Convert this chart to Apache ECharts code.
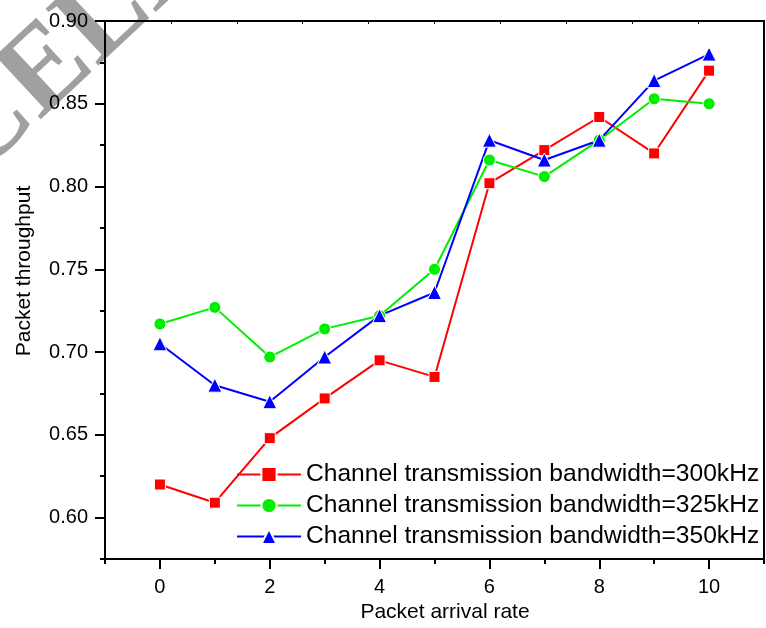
<!DOCTYPE html>
<html>
<head>
<meta charset="utf-8">
<script src="https://cdn.jsdelivr.net/npm/echarts@6/dist/echarts.min.js"></script>
<style>
html,body{margin:0;padding:0;background:#fff;}
#chart{width:766px;height:628px;}
</style>
</head>
<body>
<div id="chart"></div>
<script>
const xValues = [0, 1, 2, 3, 4, 5, 6, 7, 8, 9, 10];
const bw300 = [0.620, 0.609, 0.648, 0.672, 0.695, 0.685, 0.802, 0.822, 0.842, 0.820, 0.870];
const bw325 = [0.717, 0.727, 0.697, 0.714, 0.722, 0.750, 0.816, 0.806, 0.828, 0.853, 0.850];
const bw350 = [0.705, 0.680, 0.670, 0.697, 0.722, 0.736, 0.828, 0.816, 0.828, 0.864, 0.880];
const seriesNames = [
  'Channel transmission bandwidth=300kHz',
  'Channel transmission bandwidth=325kHz',
  'Channel transmission bandwidth=350kHz'
];
const xMajorTicks = [0, 2, 4, 6, 8, 10];
const xMinorTicks = [-1, 1, 3, 5, 7, 9, 11];
const yMajorTicks = [0.60, 0.65, 0.70, 0.75, 0.80, 0.85, 0.90];
const yMinorTicks = [0.575, 0.625, 0.675, 0.725, 0.775, 0.825, 0.875];
const xTitle = 'Packet arrival rate';
const yTitle = 'Packet throughput';
const watermark = 'CANCELLED';

const FONT = 'Arial, "Liberation Sans", Helvetica, sans-serif';
const chart = echarts.init(document.getElementById('chart'), null, {renderer: 'canvas'});

function pairs(ys) { return xValues.map((x, i) => [x, ys[i]]); }

const colors = ['#ff0000', '#00ee00', '#0000ff'];
const symbols = ['rect', 'circle', 'triangle'];
const sizes = [11, 12, 14];
const datasets = [bw300, bw325, bw350];

const series = datasets.map((d, i) => ({
  name: seriesNames[i],
  type: 'line',
  xAxisIndex: 0,
  yAxisIndex: 0,
  data: pairs(d),
  symbol: symbols[i],
  symbolSize: sizes[i],
  showAllSymbol: true,
  lineStyle: {color: colors[i], width: 2},
  itemStyle: {color: colors[i], borderColor: '#ffffff', borderWidth: 1},
  emphasis: {disabled: true},
  animation: false,
  z: 3
}));

chart.setOption({
  animation: false,
  backgroundColor: '#ffffff',
  grid: {left: 105, top: 21, right: 2, bottom: 69, containLabel: false},
  xAxis: [
    {
      type: 'value', position: 'bottom', min: -1, max: 11,
      axisLine: {show: true, onZero: false, lineStyle: {color: '#000', width: 2}},
      axisTick: {show: true, inside: false, length: 10, lineStyle: {color: '#000', width: 2}, customValues: xMajorTicks},
      axisLabel: {show: true, customValues: xMajorTicks, margin: 18, fontSize: 20, color: '#000', fontFamily: FONT},
      splitLine: {show: false}
    },
    {
      type: 'value', position: 'bottom', min: -1, max: 11,
      axisLine: {show: false, onZero: false},
      axisTick: {show: true, inside: false, length: 5, lineStyle: {color: '#000', width: 2}, customValues: xMinorTicks},
      axisLabel: {show: false},
      splitLine: {show: false}
    },
    {
      type: 'value', position: 'top', min: 0, max: 10, interval: 1,
      axisLine: {show: true, onZero: false, lineStyle: {color: '#000', width: 2}},
      axisTick: {show: true, inside: true, length: 3, lineStyle: {color: '#000', width: 1}},
      axisLabel: {show: false},
      splitLine: {show: false}
    }
  ],
  yAxis: [
    {
      type: 'value', position: 'left', min: 0.575, max: 0.9,
      axisLine: {show: true, onZero: false, lineStyle: {color: '#000', width: 2}},
      axisTick: {show: true, inside: false, length: 10, lineStyle: {color: '#000', width: 2}, customValues: yMajorTicks},
      axisLabel: {show: true, customValues: yMajorTicks, margin: 17, fontSize: 20, color: '#000', fontFamily: FONT,
        formatter: v => v.toFixed(2)},
      splitLine: {show: false}
    },
    {
      type: 'value', position: 'left', min: 0.575, max: 0.9,
      axisLine: {show: false, onZero: false},
      axisTick: {show: true, inside: false, length: 5, lineStyle: {color: '#000', width: 2}, customValues: yMinorTicks},
      axisLabel: {show: false},
      splitLine: {show: false}
    },
    {
      type: 'value', position: 'right', min: 0.575, max: 0.9,
      axisLine: {show: true, onZero: false, lineStyle: {color: '#000', width: 2}},
      axisTick: {show: false},
      axisLabel: {show: false},
      splitLine: {show: false}
    }
  ],
  legend: {
    show: true,
    orient: 'vertical',
    left: 236,
    top: 462,
    itemWidth: 64,
    itemHeight: 19,
    itemGap: 6,
    align: 'left',
    padding: 0,
    textStyle: {fontSize: 24.6, color: '#000', fontFamily: FONT, padding: [0, 0, 0, 0], lineHeight: 25},
    data: seriesNames,
    selectedMode: false
  },
  graphic: [
    {
      type: 'text', z: -10, silent: true,
      x: 40, y: 78, rotation: 0.75,
      style: {text: watermark, fill: '#a0a0a0', font: 'bold 118px "Liberation Serif", "DejaVu Serif", serif',
        textAlign: 'center', textVerticalAlign: 'middle'}
    },
    {
      type: 'text', silent: true, x: 445, y: 612,
      style: {text: xTitle, fill: '#000', font: '21px ' + FONT, textAlign: 'center', textVerticalAlign: 'middle'}
    },
    {
      type: 'text', silent: true, x: 24, y: 271, rotation: Math.PI / 2,
      style: {text: yTitle, fill: '#000', font: '21px ' + FONT, textAlign: 'center', textVerticalAlign: 'middle'}
    }
  ],
  series: series
});
</script>
</body>
</html>
